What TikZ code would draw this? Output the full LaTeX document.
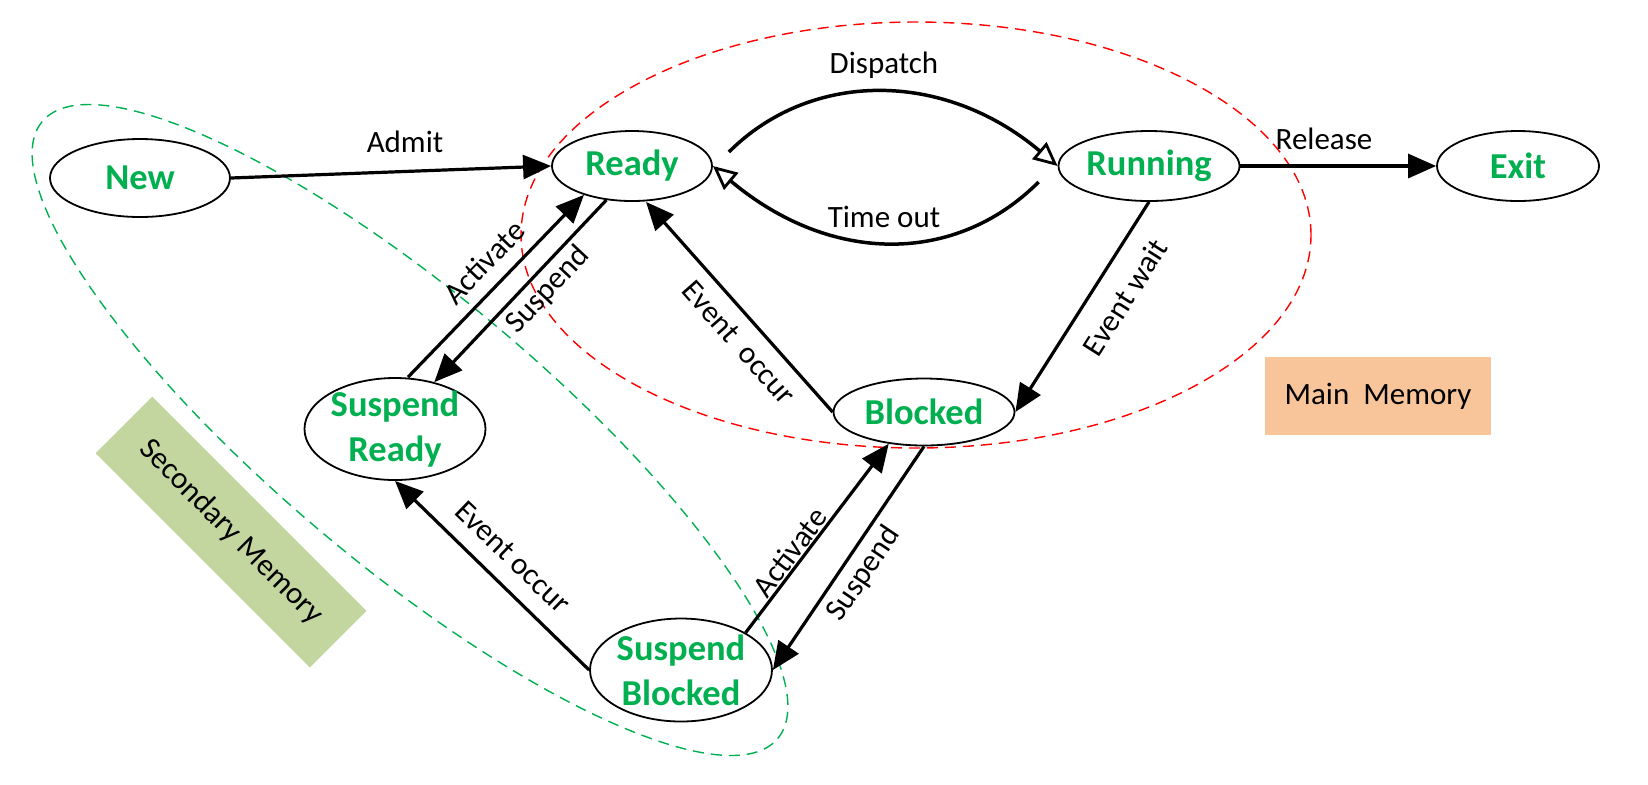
\documentclass[tikz,border=0pt]{standalone}
\usepackage{fontspec}
\setmainfont{Carlito}
\usetikzlibrary{shapes.geometric,arrows.meta}
\definecolor{stategreen}{RGB}{0,176,80}
\definecolor{mainfill}{RGB}{248,197,154}
\definecolor{secfill}{RGB}{196,214,160}

\begin{document}
\begin{tikzpicture}[x=0.5pt,y=0.5pt,
		state/.style={ellipse,draw,line width=0.9pt,fill=white,inner sep=-8pt,text=stategreen,align=center,font=\bfseries\fontsize{18.25}{22.5}\selectfont},
		lbl/.style={font=\fontsize{15.5}{18}\selectfont},
		trans/.style={line width=1.6pt,-{Triangle[length=14pt,width=12pt]}},
		swap/.style={line width=1.75pt,-{Triangle[open,length=12pt,width=11pt,line width=1.4pt]}},
		zone/.style={line width=0.7pt,dash pattern=on 5.5pt off 3.5pt}]
		\useasboundingbox (0,0) rectangle (1648,-784);
		
		\draw [zone,stategreen,rotate around={-40:(410,-430)}](410,-430) ellipse [x radius=480,y radius=135];
		\draw [zone,red](916,-235) ellipse [x radius=395,y radius=213];
		
		\draw (1378,-396) node[lbl,fill=mainfill,minimum width=113pt,minimum height=39pt] (mainmem) {Main\ \ Memory};
		\draw (231,-532) node[lbl,fill=secfill,minimum width=151.5pt,minimum height=40pt,rotate=-45] (secmem) {Secondary Memory};
		
		\draw (140,-178) node[state,minimum width=90pt,minimum height=39pt] (new) {New};
		\draw (632,-166) node[state,minimum width=80pt,minimum height=35pt] (ready) {Ready};
		\draw (1149,-166) node[state,minimum width=90.5pt,minimum height=35pt] (running) {Running};
		\draw (1518,-166) node[state,minimum width=81pt,minimum height=35pt] (exit) {Exit};
		\draw (395,-429) node[state,minimum width=90.5pt,minimum height=51pt] (sready) {Suspend\\Ready};
		\draw (924,-412) node[state,minimum width=90.5pt,minimum height=33.5pt] (blocked) {Blocked};
		\draw (681,-670) node[state,minimum width=91pt,minimum height=51.5pt] (sblocked) {Suspend\\Blocked};
		
		\draw [trans](new.east)--(ready.west);
		\draw [swap]([shift={(16,14)}]ready.east) .. controls +(82,82) and +(-114,96) .. (running.west);
		\draw [swap]([shift={(-19,-16)}]running.west) .. controls +(-83,-83) and +(118,-99) .. (ready.east);
		\draw [trans](running.east)--(exit.west);
		\draw [trans](running.south)--(blocked.east);
		\draw [trans](blocked.west)--([shift={(14,0)}]ready.south);
		\draw [trans]([shift={(13,0)}]sready.north)--(ready.211);
		\draw [trans](ready.233)--(sready.50);
		\draw [trans](sblocked.west)--(sready.south);
		\draw [trans](sblocked.30)--(blocked.222);
		\draw [trans](blocked.south)--(sblocked.east);
		
		\draw (405,-142) node[lbl] (admit) {Admit};
		\draw (884,-65) node[lbl] (dispatch) {Dispatch};
		\draw (884,-217) node[lbl] (timeout) {Time out};
		\draw (1324,-139) node[lbl] (release) {Release};
		\draw (1125,-297) node[lbl,rotate=57.6] (eventwait) {Event wait};
		\draw (739,-343) node[lbl,rotate=-48.6] (occurup) {Event\ \ occur};
		\draw (484,-262) node[lbl,rotate=46] (activateup) {Activate};
		\draw (548,-290) node[lbl,rotate=46.8] (suspendup) {Suspend};
		\draw (513,-557) node[lbl,rotate=-44] (occurdown) {Event occur};
		\draw (790,-552) node[lbl,rotate=53] (activatedown) {Activate};
		\draw (864,-574) node[lbl,rotate=56] (suspenddown) {Suspend};
	
	\end{tikzpicture}
\end{document}
